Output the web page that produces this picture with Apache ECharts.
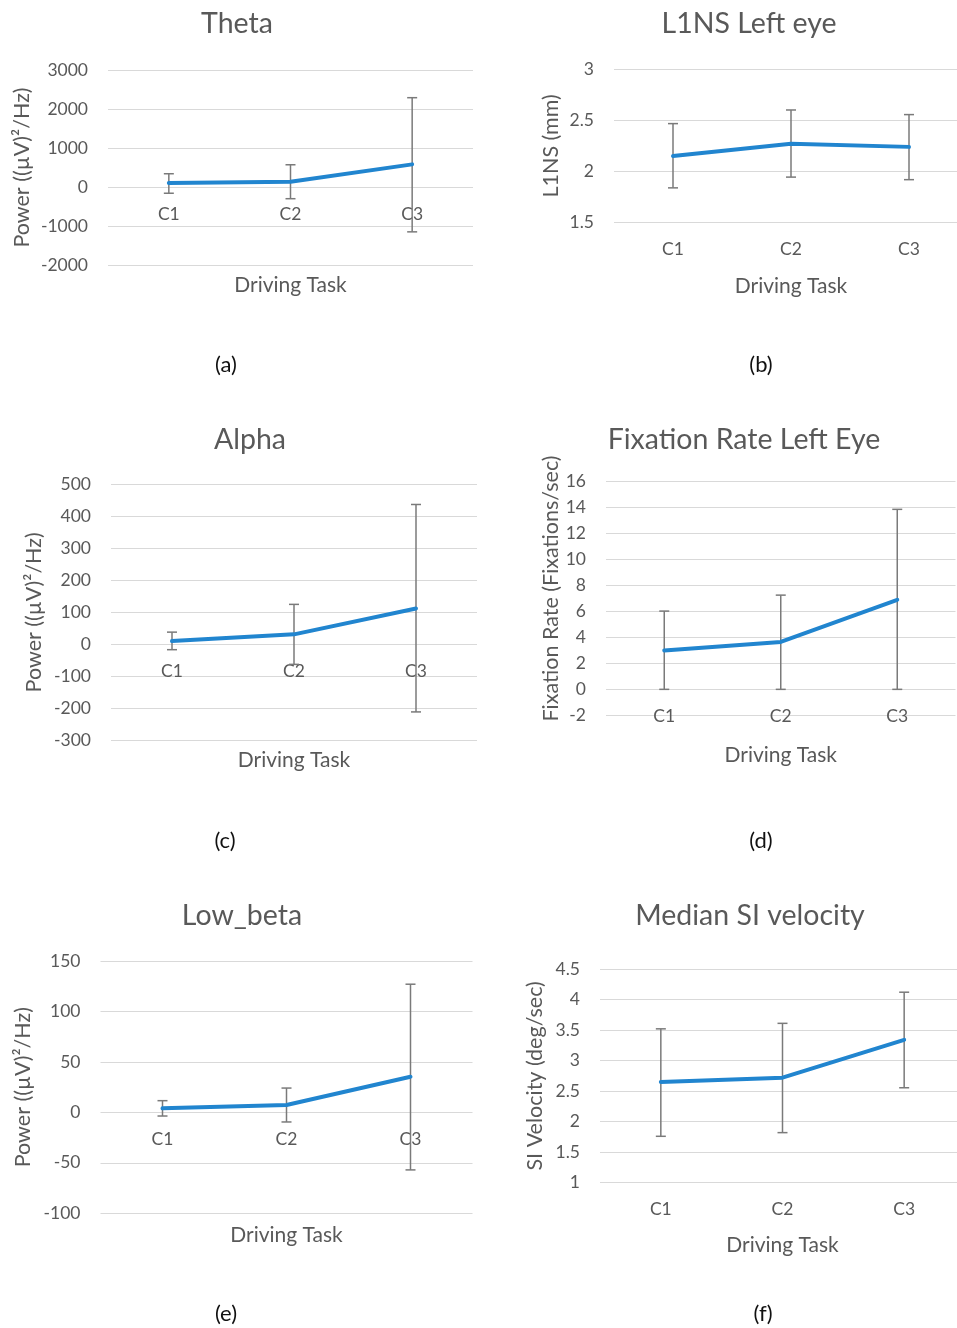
<!DOCTYPE html>
<html>
<head>
<meta charset="utf-8">
<script src="https://cdn.jsdelivr.net/npm/echarts@6/dist/echarts.min.js"></script>
<style>
html,body{margin:0;padding:0;background:#fff;}
#chart{width:957px;height:1328px;}
</style>
</head>
<body>
<div id="chart"></div>
<script>
// ---- data ----
const categories = ['C1', 'C2', 'C3'];

const thetaMean = [100, 135, 580];
const thetaLow  = [-160, -300, -1150];
const thetaHigh = [340, 570, 2290];

const l1nsMean = [2.15, 2.27, 2.24];
const l1nsLow  = [1.84, 1.945, 1.92];
const l1nsHigh = [2.467, 2.60, 2.555];

const alphaMean = [10, 31, 112];
const alphaLow  = [-17, -63, -212];
const alphaHigh = [38, 125, 438];

const fixMean = [3.0, 3.65, 6.9];
const fixLow  = [0, 0, 0];
const fixHigh = [6.03, 7.26, 13.87];

const lowBetaMean = [4, 7.3, 35.3];
const lowBetaLow  = [-3.6, -9.5, -57];
const lowBetaHigh = [11.6, 24.1, 127];

const siMean = [2.65, 2.72, 3.34];
const siLow  = [1.76, 1.82, 2.555];
const siHigh = [3.52, 3.61, 4.12];

const panelTitles = ['Theta', 'L1NS Left eye', 'Alpha', 'Fixation Rate Left Eye', 'Low_beta', 'Median SI velocity'];
const panelTags = ['(a)', '(b)', '(c)', '(d)', '(e)', '(f)'];
const yNames = ['Power ((µV)²/Hz)', 'L1NS (mm)', 'Power ((µV)²/Hz)', 'Fixation Rate (Fixations/sec)', 'Power ((µV)²/Hz)', 'SI Velocity (deg/sec)'];
const xName = 'Driving Task';

// ---- layout / style ----
const FONT = 'Lato';
const TXT = '#595959';
const BLUE = '#2185CF';
const ERR = '#7a7a7a';

const panels = [
  {mean: thetaMean, low: thetaLow, high: thetaHigh, min: -2000, max: 3000, interval: 1000,
   grid: {left: 108, top: 70, width: 365, height: 195}, titleX: 237, titleY: 9, tagX: 226, tagY: 354,
   xGap: 10, yGap: 74.5, yPad: 0},
  {mean: l1nsMean, low: l1nsLow, high: l1nsHigh, min: 1.5, max: 3, interval: 0.5,
   grid: {left: 614, top: 69, width: 354, height: 153.7}, titleX: 749, titleY: 9, tagX: 761, tagY: 354,
   xGap: 53, yGap: 52, yPad: 0},
  {mean: alphaMean, low: alphaLow, high: alphaHigh, min: -300, max: 500, interval: 100,
   grid: {left: 111, top: 484.7, width: 366, height: 255.3}, titleX: 250, titleY: 425, tagX: 225, tagY: 830,
   xGap: 10, yGap: 66, yPad: 0},
  {mean: fixMean, low: fixLow, high: fixHigh, min: -2, max: 16, interval: 2,
   grid: {left: 606, top: 481.7, width: 349.5, height: 233.6}, titleX: 744, titleY: 425, tagX: 761, tagY: 830,
   xGap: 29, yGap: 44, yPad: 20},
  {mean: lowBetaMean, low: lowBetaLow, high: lowBetaHigh, min: -100, max: 150, interval: 50,
   grid: {left: 100.5, top: 961, width: 372, height: 252.3}, titleX: 242, titleY: 901, tagX: 226, tagY: 1303,
   xGap: 11, yGap: 66.5, yPad: 0},
  {mean: siMean, low: siLow, high: siHigh, min: 1, max: 4.5, interval: 0.5,
   grid: {left: 600, top: 969, width: 365, height: 213.7}, titleX: 750, titleY: 901, tagX: 763, tagY: 1303,
   xGap: 52, yGap: 54, yPad: 0}
];

const grids = [], xAxes = [], yAxes = [], series = [], titles = [];

function errorBarItem(params, api) {
  const x = api.value(0);
  const lo = api.coord([x, api.value(1)]);
  const hi = api.coord([x, api.value(2)]);
  const hw = 5;
  const st = {stroke: ERR, lineWidth: 1.5};
  return {
    type: 'group',
    children: [
      {type: 'line', shape: {x1: hi[0], y1: hi[1], x2: lo[0], y2: lo[1]}, style: st},
      {type: 'line', shape: {x1: hi[0] - hw, y1: hi[1], x2: hi[0] + hw, y2: hi[1]}, style: st},
      {type: 'line', shape: {x1: lo[0] - hw, y1: lo[1], x2: lo[0] + hw, y2: lo[1]}, style: st}
    ]
  };
}

// category labels sit below the horizontal axis crossing (value 0, or the axis minimum)
function catLabelItem(params, api) {
  const k = api.value(0);
  const pt = api.coord([k, api.value(1)]);
  return {
    type: 'text', x: pt[0], y: pt[1] + 27,
    style: {text: categories[k], fill: TXT, fontFamily: FONT, fontSize: 17.5,
            align: 'center', verticalAlign: 'middle'}
  };
}

panels.forEach((p, i) => {
  grids.push(Object.assign({containLabel: false, outerBoundsMode: 'none'}, p.grid));
  xAxes.push({
    type: 'category', gridIndex: i, data: categories, boundaryGap: true,
    axisLine: {show: false, onZero: false}, axisTick: {show: false},
    axisLabel: {show: false},
    splitLine: {show: false},
    name: xName, nameLocation: 'middle', nameGap: p.xGap, nameMoveOverlap: false,
    nameTextStyle: {color: TXT, fontFamily: FONT, fontSize: 21}
  });
  yAxes.push({
    type: 'value', gridIndex: i, min: p.min, max: p.max, interval: p.interval,
    axisLine: {show: false}, axisTick: {show: false},
    axisLabel: {color: TXT, fontFamily: FONT, fontSize: 17.5, margin: 20,
      formatter: function (v) { return String(v); }},
    splitLine: {show: true, lineStyle: {color: '#d9d9d9', width: 1.2}},
    name: yNames[i], nameLocation: 'middle', nameGap: p.yGap, nameMoveOverlap: false,
    nameTextStyle: {color: TXT, fontFamily: FONT, fontSize: 21.5, padding: [0, 0, 0, p.yPad]}
  });
  const crossVal = Math.min(Math.max(0, p.min), p.max);
  series.push({
    type: 'custom', xAxisIndex: i, yAxisIndex: i, z: 1, silent: true,
    renderItem: catLabelItem,
    encode: {x: 0, y: 1},
    data: categories.map((c, k) => [k, crossVal])
  });
  series.push({
    type: 'custom', xAxisIndex: i, yAxisIndex: i, z: 2,
    renderItem: errorBarItem,
    encode: {x: 0, y: [1, 2]},
    data: categories.map((c, k) => [k, p.low[k], p.high[k]])
  });
  series.push({
    type: 'line', xAxisIndex: i, yAxisIndex: i, z: 3,
    data: p.mean, symbol: 'none',
    lineStyle: {color: BLUE, width: 4, cap: 'round', join: 'round'}
  });
  titles.push({
    text: panelTitles[i], left: p.titleX, top: p.titleY, textAlign: 'center', padding: 0,
    textStyle: {color: TXT, fontFamily: FONT, fontSize: 28.5, fontWeight: 'normal'}
  });
  titles.push({
    text: panelTags[i], left: p.tagX, top: p.tagY, textAlign: 'center', padding: 0,
    textStyle: {color: '#111', fontFamily: FONT, fontSize: 22, fontWeight: 'normal'}
  });
});

const chart = echarts.init(document.getElementById('chart'), null, {renderer: 'canvas'});
chart.setOption({
  animation: false,
  backgroundColor: '#fff',
  title: titles,
  grid: grids,
  xAxis: xAxes,
  yAxis: yAxes,
  series: series
});
</script>
</body>
</html>
